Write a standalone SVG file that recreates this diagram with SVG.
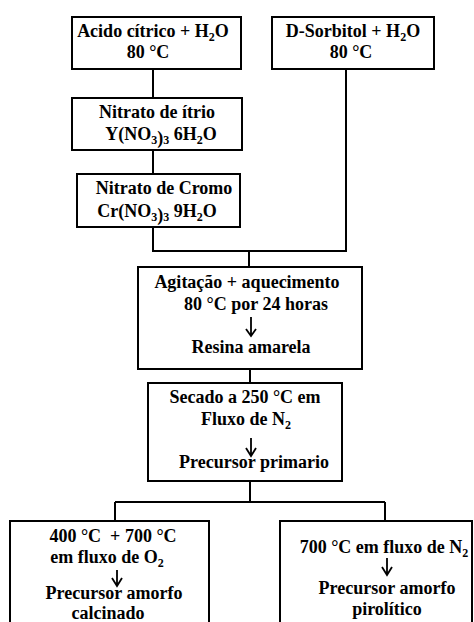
<svg xmlns="http://www.w3.org/2000/svg" width="474" height="622" viewBox="0 0 474 622" font-family="'Liberation Serif', 'Times New Roman', 'DejaVu Serif', serif" font-weight="bold" font-size="18">
<style>
.box{fill:#fff;stroke:#000;stroke-width:2}
.ln{fill:none;stroke:#000;stroke-width:2}
.ar{fill:none;stroke:#000;stroke-width:1.8}
text{font-family:'Liberation Serif','Times New Roman','DejaVu Serif',serif;font-weight:700;font-size:18px;fill:#000;text-anchor:middle;white-space:pre}
.s{font-size:12px}
</style>
<rect width="474" height="622" fill="#fff"/>
<g id="connectors">
<path class="ln" d="M153 69V98M153 150V174M153 227V251H346V69M249 251V267M250 369V383M250 481V502M115 502H385M115 502V521M385 502V521"/>
</g>
<g id="n1">
<rect class="box" x="72" y="17" width="169" height="52"/>
<text x="153" y="37">Acido cítrico + H<tspan class="s" dy="4">2</tspan><tspan dy="-4">O</tspan></text>
<text x="148" y="58">80 °C</text>
</g>
<g id="n2">
<rect class="box" x="272" y="17" width="162" height="52"/>
<text x="353" y="37">D-Sorbitol + H<tspan class="s" dy="4">2</tspan><tspan dy="-4">O</tspan></text>
<text x="351" y="58">80 °C</text>
</g>
<g id="n3">
<rect class="box" x="72" y="98" width="170" height="52"/>
<text x="157" y="118">Nitrato de ítrio</text>
<text x="161" y="140">Y(NO<tspan class="s" dy="4">3</tspan><tspan dy="0">)</tspan><tspan class="s" dy="0">3</tspan><tspan dy="-4"> 6H</tspan><tspan class="s" dy="4">2</tspan><tspan dy="-4">O</tspan></text>
</g>
<g id="n4">
<rect class="box" x="77" y="174" width="163" height="53"/>
<text x="164" y="194">Nitrato de Cromo</text>
<text x="157" y="217">Cr(NO<tspan class="s" dy="4">3</tspan><tspan dy="0">)</tspan><tspan class="s" dy="0">3</tspan><tspan dy="-4"> 9H</tspan><tspan class="s" dy="4">2</tspan><tspan dy="-4">O</tspan></text>
</g>
<g id="n5">
<rect class="box" x="138" y="267" width="224" height="102"/>
<text x="247" y="288">Agitação + aquecimento</text>
<text x="256" y="310">80 °C por 24 horas</text>
<path class="ar" d="M251 317V335M246 329L251 336L256 329"/>
<text x="251" y="353">Resina amarela</text>
</g>
<g id="n6">
<rect class="box" x="148" y="383" width="194" height="98"/>
<text x="245" y="403">Secado a 250 °C em</text>
<text x="246" y="425">Fluxo de N<tspan class="s" dy="4">2</tspan></text>
<path class="ar" d="M251 438V455M246 448L251 456L256 448"/>
<text x="254" y="468">Precursor primario</text>
</g>
<g id="n7">
<rect class="box" x="10" y="521" width="199" height="120"/>
<text x="113" y="542">400 °C  + 700 °C</text>
<text x="107" y="563">em fluxo de O<tspan class="s" dy="4">2</tspan></text>
<path class="ar" d="M117 570V585M112 578L117 586L122 578"/>
<text x="114" y="599">Precursor amorfo</text>
<text x="108" y="619">calcinado</text>
</g>
<g id="n8">
<rect class="box" x="280" y="521" width="192" height="120"/>
<text x="384" y="553">700 °C em fluxo de N<tspan class="s" dy="4">2</tspan></text>
<path class="ar" d="M387 558V574M382 567L387 575L392 567"/>
<text x="387" y="594">Precursor amorfo</text>
<text x="387" y="615">pirolítico</text>
</g>
</svg>
